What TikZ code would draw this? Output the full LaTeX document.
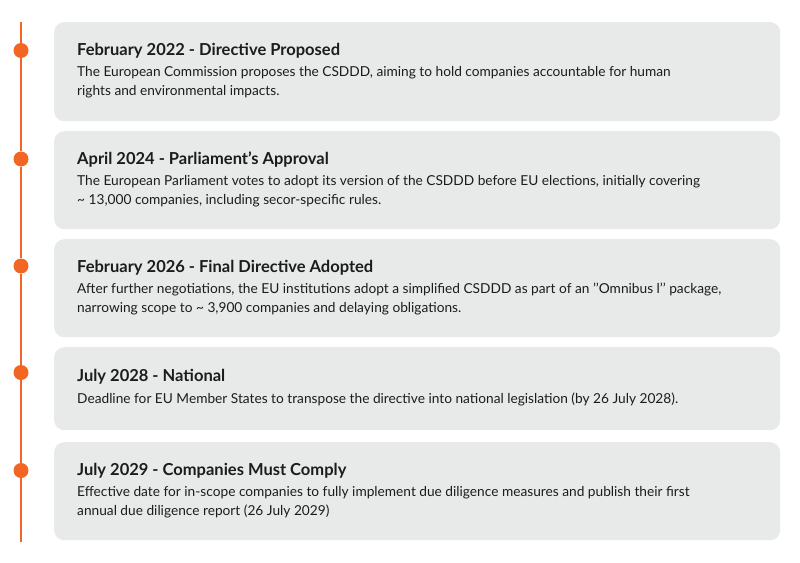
\documentclass[tikz,border=0pt]{standalone}
\usepackage{fontspec}
\setmainfont{Lato}
\definecolor{cf26522}{RGB}{242,101,34}
\definecolor{ce8e9e9}{RGB}{232,233,233}
\definecolor{c1c1c1c}{RGB}{28,28,28}
\tikzset{card/.style={fill=ce8e9e9,draw=none,rounded corners=10pt,anchor=north west,
minimum width=726pt,inner sep=0pt},
ttl/.style={anchor=base west,inner sep=0pt,color=c1c1c1c,font=\bfseries\fontsize{16.5}{16.5}\selectfont},
txt/.style={anchor=base west,inner sep=0pt,color=c1c1c1c,align=left,font=\fontsize{13.7}{19.8}\selectfont}}

\begin{document}
\begin{tikzpicture}[x=1pt,y=-1pt]
\useasboundingbox (0,0) rectangle (800,562);
\node[card,minimum height=99pt] (c1) at (54,22) {};
\node[card,minimum height=98pt] (c2) at (54,131) {};
\node[card,minimum height=98pt] (c3) at (54,239) {};
\node[card,minimum height=83pt] (c4) at (54,347) {};
\node[card,minimum height=98pt] (c5) at (54,442) {};

\begin{scope}[every node/.style={circle,fill=cf26522,draw=none,minimum size=15pt,inner sep=0pt}]
\node (d1) at (21,50.5) {};
\node (d2) at (21,159) {};
\node (d3) at (21,266) {};
\node (d4) at (21,372.5) {};
\node (d5) at (21,470.5) {};
\end{scope}
\coordinate (top) at (21,22);
\coordinate (bot) at (21,541.5);
\draw[line width=2pt,color=cf26522] (top) -- (d1) -- (d2) -- (d3) -- (d4) -- (d5) -- (bot);

% base of a two-line text is its last line
\node[ttl] (t1) at (77,55) {February 2022 - Directive Proposed};
\node[txt] (b1) at (77,95.8) {The European Commission proposes the CSDDD, aiming to hold companies accountable for human\\rights and environmental impacts.};
\node[ttl] (t2) at (77,164) {April 2024 - Parliament’s Approval};
\node[txt] (b2) at (77,204.8) {The European Parliament votes to adopt its version of the CSDDD before EU elections, initially covering\\\textasciitilde{} 13,000 companies, including secor-specific rules.};
\node[ttl] (t3) at (77,272) {February 2026 - Final Directive Adopted};
\node[txt] (b3) at (77,312.8) {After further negotiations, the EU institutions adopt a simplified CSDDD as part of an ’’Omnibus l’’ package,\\narrowing scope to \textasciitilde{} 3,900 companies and delaying obligations.};
\node[ttl] (t4) at (77,381.5) {July 2028 - National};
\node[txt] (b4) at (77,403) {Deadline for EU Member States to transpose the directive into national legislation (by 26 July 2028).};
\node[ttl] (t5) at (77,475) {July 2029 - Companies Must Comply};
\node[txt] (b5) at (77,515.8) {Effective date for in-scope companies to fully implement due diligence measures and publish their first\\annual due diligence report (26 July 2029)};
\end{tikzpicture}
\end{document}
